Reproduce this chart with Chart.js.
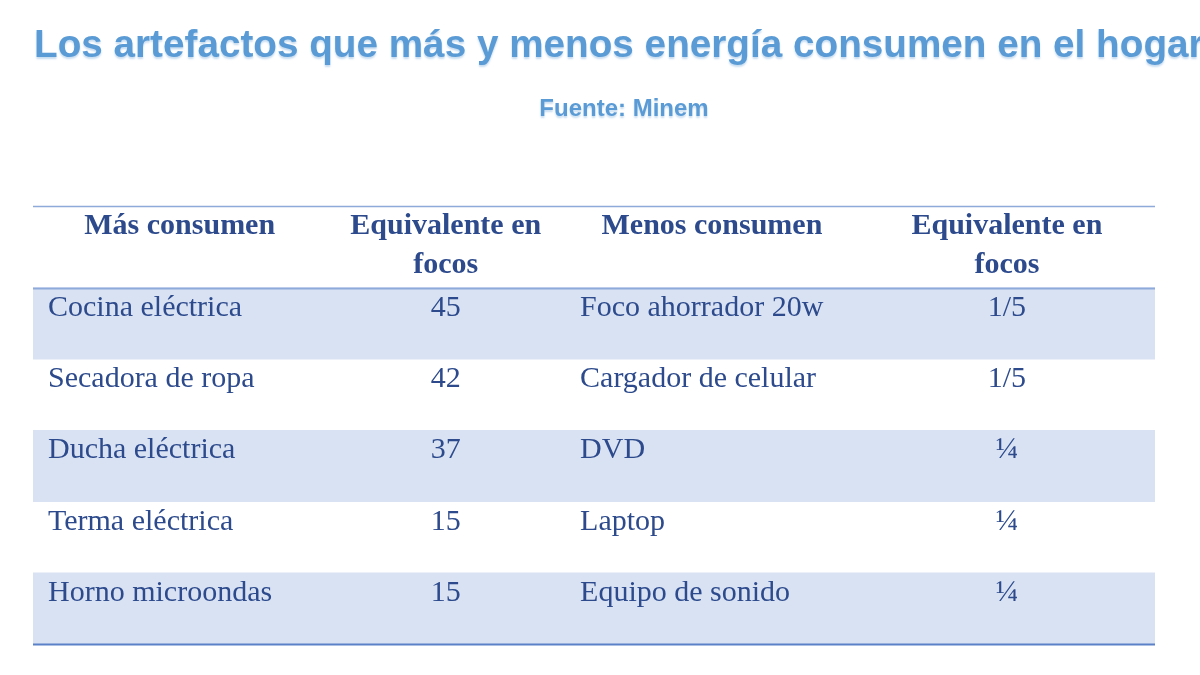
<!DOCTYPE html>
<html>
<head>
<meta charset="utf-8">
<script src="https://cdn.jsdelivr.net/npm/chart.js@4.4.1/dist/chart.umd.min.js"></script>
<style>
  html, body { margin: 0; padding: 0; background: #ffffff; }
  #wrap { width: 1200px; height: 675px; position: relative; }
</style>
</head>
<body>
<div id="wrap"><canvas id="c"></canvas></div>
<script>
// ---- Data ----
const titleText = 'Los artefactos que más y menos energía consumen en el hogar';
const subtitleText = 'Fuente: Minem';
const headers = [['Más consumen'], ['Equivalente en', 'focos'], ['Menos consumen'], ['Equivalente en', 'focos']];
const masConsumen = ['Cocina eléctrica', 'Secadora de ropa', 'Ducha eléctrica', 'Terma eléctrica', 'Horno microondas'];
const masFocos = ['45', '42', '37', '15', '15'];
const menosConsumen = ['Foco ahorrador 20w', 'Cargador de celular', 'DVD', 'Laptop', 'Equipo de sonido'];
const menosFocos = ['1/5', '1/5', '¼', '¼', '¼'];

// ---- Layout / style ----
const colEdges = [0, 0.2615, 0.4742, 0.736, 1];      // fraction of table width
const colAlign = ['left', 'center', 'left', 'center'];
const headerSpan = 1.15;                              // header height in row units
const shade = '#D9E2F3';
const textColor = '#2C4A8C';
const titleColor = '#5B9BD5';

const columns = [masConsumen, masFocos, menosConsumen, menosFocos];

const rowBands = masConsumen.map((_, i) => ({ x: [0, 1], y: i + 0.5 }));
const rowColors = masConsumen.map((_, i) => (i % 2 === 0 ? shade : 'rgba(255,255,255,0)'));

const tablePlugin = {
  id: 'tablePlugin',
  afterDatasetsDraw(chart) {
    const { ctx, scales: { x, y } } = chart;
    const left = x.getPixelForValue(0), right = x.getPixelForValue(1);
    const padPx = 15;
    const colX = (c) => {
      const a = x.getPixelForValue(colEdges[c]), b = x.getPixelForValue(colEdges[c + 1]);
      return colAlign[c] === 'left' ? a + padPx : (a + b) / 2;
    };
    ctx.save();
    // borders
    const hline = (v, color, w) => {
      const py = Math.round(y.getPixelForValue(v)) + 0.5;
      ctx.beginPath();
      ctx.strokeStyle = color; ctx.lineWidth = w;
      ctx.moveTo(left, py); ctx.lineTo(right, py); ctx.stroke();
    };
    hline(-headerSpan, '#8EAADB', 1.3);
    hline(0, '#8EAADB', 2);
    hline(masConsumen.length, '#5B82C8', 2);

    // header text
    ctx.fillStyle = textColor;
    ctx.textBaseline = 'alphabetic';
    ctx.font = 'bold 30px "Liberation Serif", "Times New Roman", serif';
    const headTop = y.getPixelForValue(-headerSpan);
    headers.forEach((lines, c) => {
      ctx.textAlign = 'center';
      const a = x.getPixelForValue(colEdges[c]), b = x.getPixelForValue(colEdges[c + 1]);
      lines.forEach((t, k) => {
        ctx.fillText(t, (a + b) / 2, headTop + 28 + k * 39);
      });
    });

    // body text
    ctx.font = '30px "Liberation Serif", "Times New Roman", serif';
    columns.forEach((col, c) => {
      ctx.textAlign = colAlign[c];
      col.forEach((t, r) => {
        const top = y.getPixelForValue(r);
        ctx.fillText(t, colX(c), top + 28);
      });
    });
    ctx.restore();
  },
  afterDraw(chart) {
    const { ctx } = chart;
    ctx.save();
    ctx.fillStyle = titleColor;
    ctx.shadowColor = 'rgba(91,155,213,0.35)';
    ctx.shadowOffsetY = 2;
    ctx.shadowBlur = 2;
    ctx.textBaseline = 'alphabetic';
    ctx.textAlign = 'left';
    ctx.font = 'bold 38.7px "Liberation Sans", Arial, sans-serif';
    ctx.fillText(titleText, 34, 57);
    ctx.textAlign = 'center';
    ctx.font = 'bold 24px "Liberation Sans", Arial, sans-serif';
    ctx.fillText(subtitleText, 624, 116);
    ctx.restore();
  }
};

new Chart(document.getElementById('c'), {
  type: 'bar',
  data: {
    datasets: [{
      data: rowBands,
      backgroundColor: rowColors,
      borderWidth: 0,
      barPercentage: 1,
      categoryPercentage: 1
    }]
  },
  options: {
    indexAxis: 'y',
    responsive: true,
    maintainAspectRatio: false,
    animation: false,
    layout: { padding: { top: 206, left: 33, right: 45, bottom: 31 } },
    scales: {
      x: { type: 'linear', min: 0, max: 1, display: false, offset: false },
      y: { type: 'linear', min: -headerSpan, max: masConsumen.length, reverse: true, display: false, offset: false }
    },
    plugins: {
      legend: { display: false },
      tooltip: { enabled: false },
      title: { display: false }
    }
  },
  plugins: [tablePlugin]
});
</script>
</body>
</html>
